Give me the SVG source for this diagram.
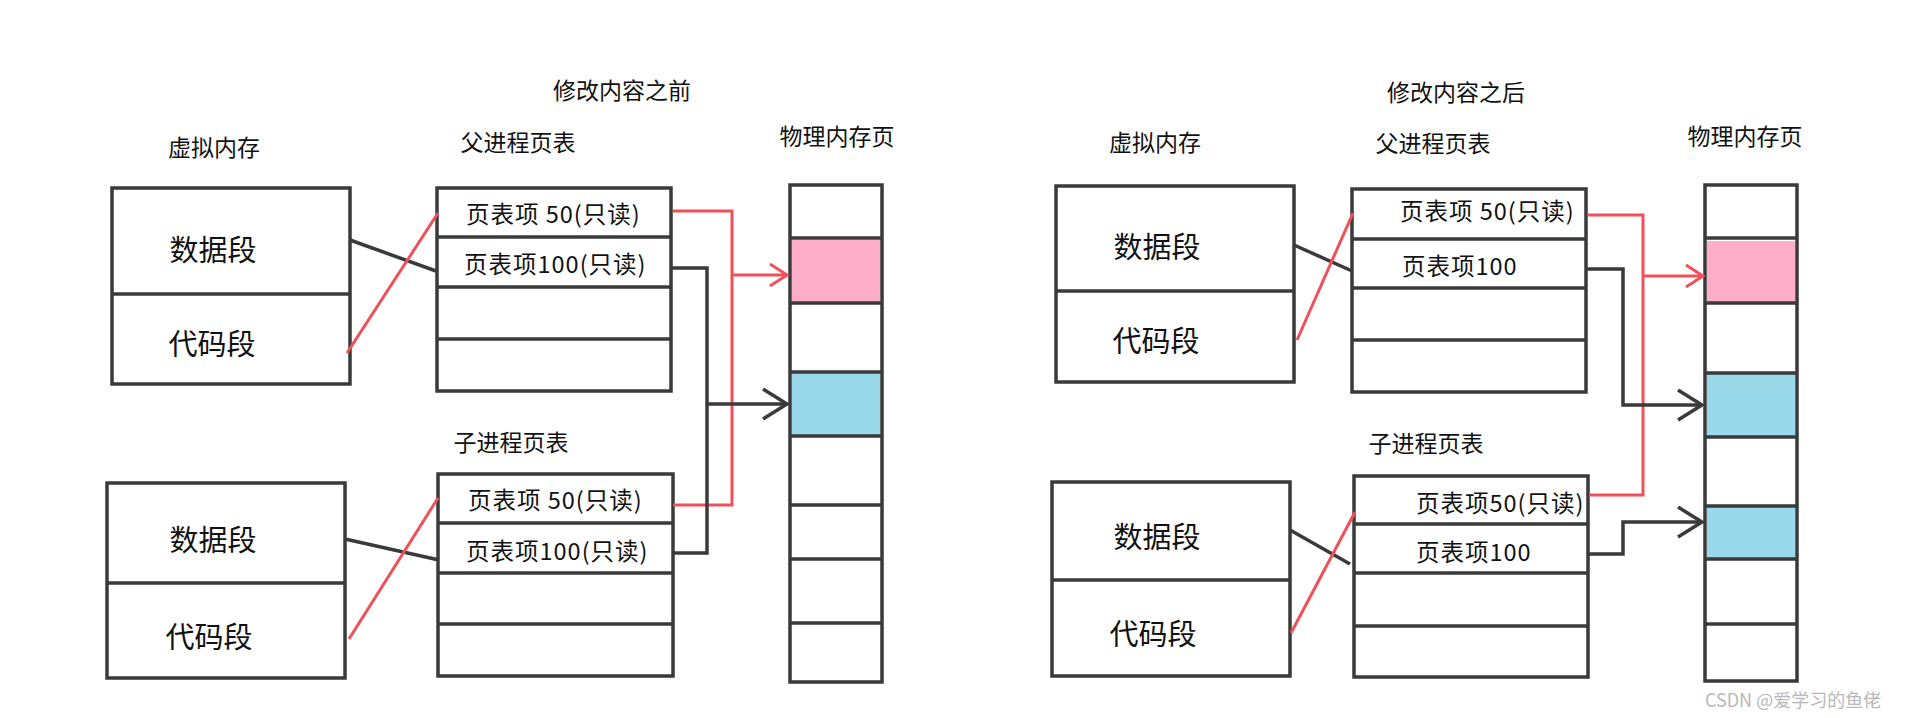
<svg xmlns="http://www.w3.org/2000/svg" width="1911" height="718" viewBox="0 0 1911 718">
<defs>
<style>
.bg{fill:#ffffff}
.box{fill:#ffffff;stroke:#3a3a3a;stroke-width:3.5}
.dv{stroke:#3a3a3a;stroke-width:3.5;fill:none}
.pink{fill:#ffaec9}
.blue{fill:#99d9ea}
.t{font-family:"Noto Sans CJK SC","Liberation Sans",sans-serif;fill:#111;dominant-baseline:central}
.title{font-size:23px;text-anchor:middle}
.seg{font-size:29px;text-anchor:middle}
.ent{font-size:23.5px;letter-spacing:1px}
.k{stroke:#3a3a3a;stroke-width:3.5;fill:none}
.r{stroke:#f0505a;stroke-width:3;fill:none}
.wm{font-family:"Noto Sans CJK SC","Liberation Sans",sans-serif;font-size:18px;fill:#b8b8b8;dominant-baseline:central}
</style>
<marker id="arrK" markerUnits="userSpaceOnUse" markerWidth="30" markerHeight="34" refX="26" refY="16" orient="auto">
<path d="M2,1 L26,16 L2,31" fill="none" stroke="#3a3a3a" stroke-width="3.5"/>
</marker>
<marker id="arrR" markerUnits="userSpaceOnUse" markerWidth="22" markerHeight="26" refX="19" refY="12" orient="auto">
<path d="M2,1 L19,12 L2,23" fill="none" stroke="#f0505a" stroke-width="3"/>
</marker>
</defs>
<rect class="bg" x="0" y="0" width="1911" height="718"/>

<!-- LEFT: before -->
<text class="t title" x="622" y="89">修改内容之前</text>
<text class="t title" x="214" y="146">虚拟内存</text>
<text class="t title" x="518" y="141">父进程页表</text>
<text class="t title" x="837" y="135">物理内存页</text>
<text class="t title" x="511" y="441">子进程页表</text>

<g id="vm1-before">
<rect class="box" x="112" y="188" width="238" height="196"/>
<line class="dv" x1="112" y1="294" x2="350" y2="294"/>
<text class="t seg" x="213" y="248">数据段</text>
<text class="t seg" x="212" y="342">代码段</text>
</g>
<g id="vm2-before">
<rect class="box" x="107" y="483" width="238" height="195"/>
<line class="dv" x1="107" y1="583" x2="345" y2="583"/>
<text class="t seg" x="213" y="538">数据段</text>
<text class="t seg" x="209" y="635">代码段</text>
</g>
<g id="parent-before">
<rect class="box" x="437" y="188" width="234" height="203"/>
<line class="dv" x1="437" y1="237" x2="671" y2="237"/>
<line class="dv" x1="437" y1="287" x2="671" y2="287"/>
<line class="dv" x1="437" y1="339" x2="671" y2="339"/>
<text class="t ent" x="466" y="213">页表项 50(只读)</text>
<text class="t ent" x="464" y="263">页表项100(只读)</text>
</g>
<g id="child-before">
<rect class="box" x="438" y="474" width="235" height="202"/>
<line class="dv" x1="438" y1="523" x2="673" y2="523"/>
<line class="dv" x1="438" y1="573" x2="673" y2="573"/>
<line class="dv" x1="438" y1="624" x2="673" y2="624"/>
<text class="t ent" x="468" y="499">页表项 50(只读)</text>
<text class="t ent" x="466" y="550">页表项100(只读)</text>
</g>
<g id="phys-before">
<rect class="box" x="790" y="185" width="92" height="497"/>
<rect class="pink" x="792" y="240" width="88" height="62"/>
<rect class="blue" x="792" y="373" width="88" height="62"/>
<line class="dv" x1="790" y1="238" x2="882" y2="238"/>
<line class="dv" x1="790" y1="303" x2="882" y2="303"/>
<line class="dv" x1="790" y1="372" x2="882" y2="372"/>
<line class="dv" x1="790" y1="436" x2="882" y2="436"/>
<line class="dv" x1="790" y1="505" x2="882" y2="505"/>
<line class="dv" x1="790" y1="559" x2="882" y2="559"/>
<line class="dv" x1="790" y1="623" x2="882" y2="623"/>
</g>

<!-- RIGHT: after -->
<text class="t title" x="1456" y="91">修改内容之后</text>
<text class="t title" x="1155" y="141">虚拟内存</text>
<text class="t title" x="1433" y="142">父进程页表</text>
<text class="t title" x="1745" y="135">物理内存页</text>
<text class="t title" x="1426" y="442">子进程页表</text>

<g id="vm1-after">
<rect class="box" x="1056" y="186" width="238" height="196"/>
<line class="dv" x1="1056" y1="291" x2="1294" y2="291"/>
<text class="t seg" x="1157" y="245">数据段</text>
<text class="t seg" x="1156" y="339">代码段</text>
</g>
<g id="vm2-after">
<rect class="box" x="1052" y="482" width="238" height="194"/>
<line class="dv" x1="1052" y1="580" x2="1290" y2="580"/>
<text class="t seg" x="1157" y="535">数据段</text>
<text class="t seg" x="1153" y="632">代码段</text>
</g>
<g id="parent-after">
<rect class="box" x="1352" y="189" width="234" height="203"/>
<line class="dv" x1="1352" y1="239" x2="1586" y2="239"/>
<line class="dv" x1="1352" y1="288" x2="1586" y2="288"/>
<line class="dv" x1="1352" y1="340" x2="1586" y2="340"/>
<text class="t ent" x="1400" y="210">页表项 50(只读)</text>
<text class="t ent" x="1402" y="265">页表项100</text>
</g>
<g id="child-after">
<rect class="box" x="1354" y="476" width="234" height="201"/>
<line class="dv" x1="1354" y1="524" x2="1588" y2="524"/>
<line class="dv" x1="1354" y1="573" x2="1588" y2="573"/>
<line class="dv" x1="1354" y1="626" x2="1588" y2="626"/>
<text class="t ent" x="1416" y="502">页表项50(只读)</text>
<text class="t ent" x="1416" y="551">页表项100</text>
</g>
<g id="phys-after">
<rect class="box" x="1705" y="185" width="92" height="496"/>
<rect class="pink" x="1707" y="241" width="88" height="61"/>
<rect class="blue" x="1707" y="374" width="88" height="62"/>
<rect class="blue" x="1707" y="507" width="88" height="51"/>
<line class="dv" x1="1705" y1="238" x2="1797" y2="238"/>
<line class="dv" x1="1705" y1="303" x2="1797" y2="303"/>
<line class="dv" x1="1705" y1="373" x2="1797" y2="373"/>
<line class="dv" x1="1705" y1="437" x2="1797" y2="437"/>
<line class="dv" x1="1705" y1="506" x2="1797" y2="506"/>
<line class="dv" x1="1705" y1="559" x2="1797" y2="559"/>
<line class="dv" x1="1705" y1="624" x2="1797" y2="624"/>
</g>

<g id="connectors">
<!-- before -->
<line class="k" x1="350" y1="240" x2="436" y2="271"/>
<line class="r" x1="347" y1="353" x2="438" y2="213"/>
<line class="k" x1="345" y1="539" x2="439" y2="560"/>
<line class="r" x1="349" y1="639" x2="438" y2="498"/>
<path class="r" d="M673,211 H732 V505 H673"/>
<path class="r" d="M732,275 H787" marker-end="url(#arrR)"/>
<path class="k" d="M671,268 H707 V553 H673"/>
<path class="k" d="M707,404 H787" marker-end="url(#arrK)"/>
<!-- after -->
<line class="k" x1="1294" y1="245" x2="1352" y2="271"/>
<line class="r" x1="1297" y1="340" x2="1353" y2="213"/>
<line class="k" x1="1290" y1="530" x2="1350" y2="564"/>
<line class="r" x1="1291" y1="633" x2="1355" y2="512"/>
<path class="r" d="M1587,215 H1643 V495 H1589"/>
<path class="r" d="M1643,276 H1703" marker-end="url(#arrR)"/>
<path class="k" d="M1586,269 H1623 V405 H1702" marker-end="url(#arrK)"/>
<path class="k" d="M1588,554 H1623 V522 H1702" marker-end="url(#arrK)"/>
</g>

<text class="wm" x="1705" y="699">CSDN @爱学习的鱼佬</text>
</svg>
